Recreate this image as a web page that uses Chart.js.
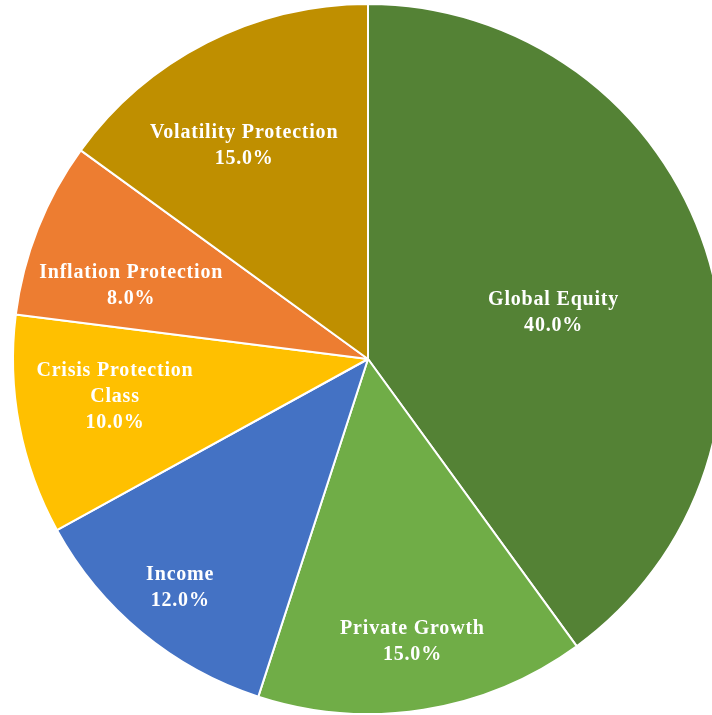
<!DOCTYPE html>
<html>
<head>
<meta charset="utf-8">
<script src="https://cdn.jsdelivr.net/npm/chart.js@4/dist/chart.umd.min.js"></script>
<style>
  html, body { margin: 0; padding: 0; background: #fff; overflow: hidden; width: 712px; height: 715px; }
  #wrap { position: absolute; left: 0; top: 0; width: 736px; height: 718px; }
</style>
</head>
<body>
<div id="wrap"><canvas id="pie" width="736" height="718"></canvas></div>
<script>
// Data
const categories = ['Global Equity', 'Private Growth', 'Income', 'Crisis Protection Class', 'Inflation Protection', 'Volatility Protection'];
const allocation = [40, 15, 12, 10, 8, 15];
const sliceColors = ['#548235', '#70AD47', '#4472C4', '#FFC000', '#ED7D31', '#BF8F00'];
// label lines as shown on the chart
const labelLines = [['Global Equity'], ['Private Growth'], ['Income'], ['Crisis Protection', 'Class'], ['Inflation Protection'], ['Volatility Protection']];

// label placement: fraction of radius along the slice middle, and a small angle nudge (degrees)
const labelDist = [0.54, 0.80, 0.83, 0.72, 0.70, 0.70];
const labelNudge = [3.5, 0, 0, 2.7, -4, -2.9];

const sliceLabels = {
    id: 'sliceLabels',
    afterDatasetsDraw(chart) {
        const ctx = chart.ctx;
        const meta = chart.getDatasetMeta(0);
        ctx.save();
        ctx.fillStyle = '#ffffff';
        ctx.font = 'bold 20px "Liberation Serif", "Times New Roman", serif';
        ctx.letterSpacing = '0.8px';
        ctx.textAlign = 'center';
        ctx.textBaseline = 'middle';
        const lineH = 26;
        meta.data.forEach((arc, i) => {
            const mid = (arc.startAngle + arc.endAngle) / 2 + labelNudge[i] * Math.PI / 180;
            const r = arc.outerRadius * labelDist[i];
            const x = arc.x + Math.cos(mid) * r;
            const y = arc.y + Math.sin(mid) * r + 2;
            const lines = labelLines[i].concat([allocation[i].toFixed(1) + '%']);
            const top = y - (lines.length - 1) * lineH / 2;
            lines.forEach((t, k) => ctx.fillText(t, x, top + k * lineH));
        });
        ctx.restore();
    }
};

new Chart(document.getElementById('pie'), {
    type: 'pie',
    data: {
        labels: categories,
        datasets: [{
            data: allocation,
            backgroundColor: sliceColors,
            borderColor: '#ffffff',
            borderWidth: 2
        }]
    },
    options: {
        responsive: false,
        animation: false,
        layout: { padding: 3 },
        plugins: {
            legend: { display: false },
            tooltip: { enabled: false }
        }
    },
    plugins: [sliceLabels]
});
</script>
</body>
</html>
